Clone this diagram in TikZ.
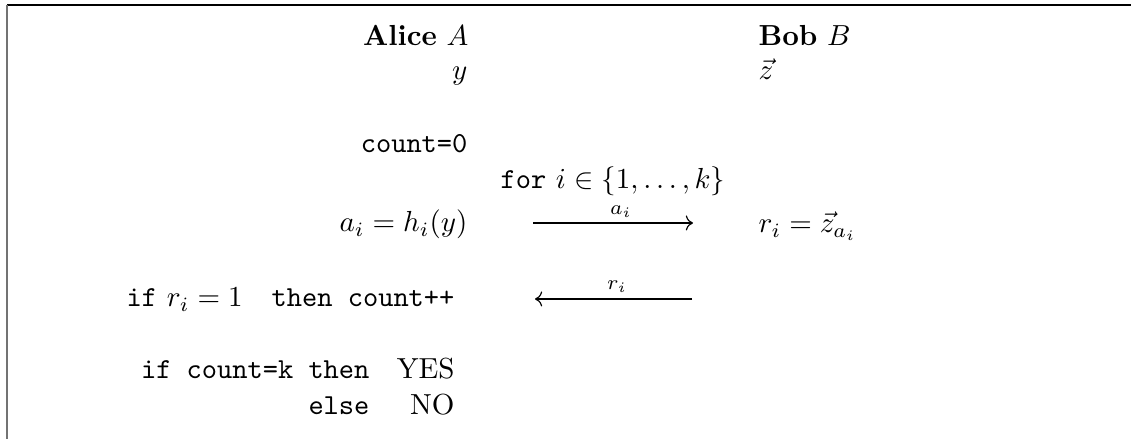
\documentclass[tikz,border=0pt]{standalone}
\usetikzlibrary{arrows.meta,positioning}

\begin{document}
\begin{tikzpicture}[
    x=0.3448pt, y=-0.3448pt,
    alice col/.style={anchor=base east, inner sep=0pt},
    bob col/.style={anchor=base west, inner sep=0pt},
    middle/.style={anchor=base, inner sep=0pt},
    lbl/.style={anchor=base, inner sep=0pt},
    msg/.style={-{Computer Modern Rightarrow}, line width=0.4pt}
]
    \useasboundingbox (0,0) rectangle (1131,439);

    % frame, open at the right and at the bottom
    \draw[line width=0.6pt] (7,5) -- (1131,5);
    \draw[black!55, line width=0.4pt] (7,5) -- (7,439);

    \node[alice col] (alice) at (469,46) {\textbf{Alice} $A$};
    \node[alice col] (y) at (468,80) {$y$};
    \node[bob col] (bob) at (758,46) {\textbf{Bob} $B$};
    \node[bob col] (z) at (758,80) {$\vec{z}$};

    \node[alice col] (count) at (468,153) {\texttt{count=0}};
    \node[middle] (loop) at (613,189) {\texttt{for} $i\in\{1,\ldots,k\}$};
    \node[alice col] (hash) at (468,232) {$a_i=h_i(y)$};
    \node[bob col] (resp) at (758,233) {$r_i=\vec{z}_{a_i}$};

    \coordinate (sendL) at (533,223);
    \coordinate (sendR) at (693,223);
    \coordinate (backL) at (535,299);
    \coordinate (backR) at (692,299);
    \draw[msg] (sendL) -- (sendR);
    \draw[msg] (backR) -- (backL);
    \node[lbl] (ai) at (621,215) {$\scriptstyle a_i$};
    \node[lbl] (ri) at (617,290) {$\scriptstyle r_i$};

    \node[alice col] (incr) at (455,307) {\texttt{if}~$r_i=1$\quad\texttt{then count++}};

    \node[alice col] (test) at (370,379) {\texttt{if count=k then}};
    \node[alice col] (yes) at (455,379) {YES};
    \node[alice col] (else) at (370,415) {\texttt{else}};
    \node[alice col] (no) at (455,415) {NO};
\end{tikzpicture}
\end{document}
